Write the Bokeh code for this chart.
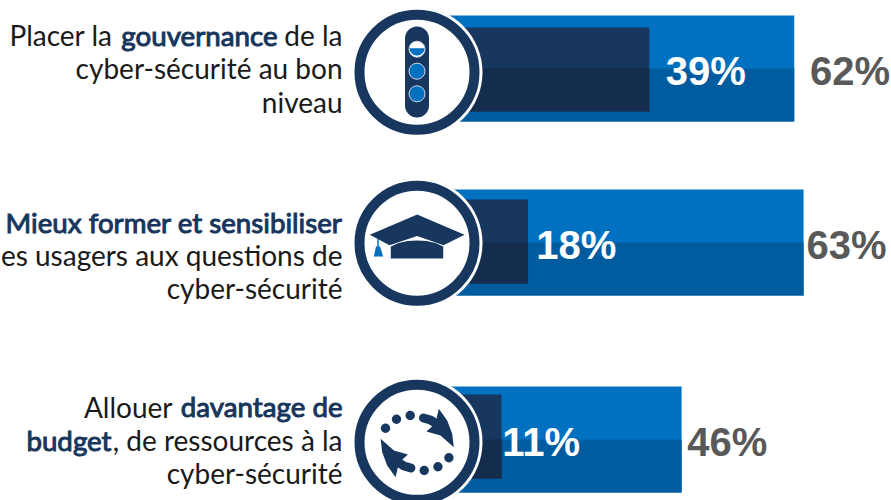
import numpy as np
from bokeh.embed import file_html
from bokeh.resources import INLINE
from bokeh.models import Range1d
from bokeh.plotting import figure
from bokeh.core.properties import value

# ---- data
outer_labels = ["62%", "63%", "46%"]
inner_labels = ["39%", "18%", "11%"]
outer_values = [61.7, 63.0, 46.0]      # bar length on the percent axis
inner_values = [41.5, 24.6, 20.9]      # bar length as drawn in the picture

# ---- styles / layout
W, H = 891, 500
BLUE_T, BLUE_B = "#0070C0", "#005C9F"
NAVY_T, NAVY_B = "#17375E", "#142C4D"
ROW_TOP = [15, 189, 386]
ROW_BOT = [121, 295, 492]
ROW_MID = [68, 242, 439]
IN_TOP = [27, 199, 394]
IN_BOT = [111, 283, 478]
ICON_X = 416.5
ICON_Y = [71.7, 242.7, 441.8]
X0, SLOPE = 351.0, 7.176
BAR_START = [9.0, 9.0, 9.0]
LABEL_Y = [70, 244, 441]
IN_OFF = [2.3, 1.15, 0.1]
OUT_OFF = [2.2, 0.4, 0.8]

p = figure(width=W, height=H, output_backend="svg", toolbar_location=None,
           x_range=Range1d(0, W), y_range=Range1d(H, 0), min_border=0,
           outline_line_color=None, background_fill_color="white", border_fill_color="white")
p.styles = {"position": "absolute", "left": "0px", "top": "0px"}
p.axis.visible = False
p.grid.visible = False
p.extra_x_ranges = {"pct": Range1d((0 - X0) / SLOPE, (W - X0) / SLOPE)}

p.quad(left=BAR_START, right=outer_values, top=ROW_TOP, bottom=ROW_BOT, x_range_name="pct",
       fill_color=BLUE_T, line_color=None)
p.quad(left=BAR_START, right=outer_values, top=ROW_MID, bottom=ROW_BOT, x_range_name="pct",
       fill_color=BLUE_B, line_color=None)
p.quad(left=BAR_START, right=inner_values, top=IN_TOP, bottom=IN_BOT, x_range_name="pct",
       fill_color=NAVY_T, line_color=None)
p.quad(left=BAR_START, right=inner_values, top=ROW_MID, bottom=IN_BOT, x_range_name="pct",
       fill_color=NAVY_B, line_color=None)

# value labels
p.text(x=[v + o for v, o in zip(inner_values, IN_OFF)], y=LABEL_Y, text=inner_labels, x_range_name="pct",
       text_font=value("Liberation Sans"), text_font_style="bold", text_font_size="40px",
       text_color="white", text_align="left", text_baseline="alphabetic")
p.text(x=[v + o for v, o in zip(outer_values, OUT_OFF)], y=LABEL_Y, text=outer_labels, x_range_name="pct",
       text_font=value("Liberation Sans"), text_font_style="bold", text_font_size="40px",
       text_color="#595959", text_align="left", text_baseline="alphabetic")

# icon discs
p.circle(x=[ICON_X] * 3, y=ICON_Y, radius=65.5, fill_color="white", line_color=None)
p.circle(x=[ICON_X] * 3, y=ICON_Y, radius=57.5, fill_color="white", line_color=NAVY_T, line_width=10)

NAVY = NAVY_T
# icon 1: gauge
p.quad(left=[ICON_X - 12], right=[ICON_X + 12], top=[38], bottom=[105], fill_color=NAVY, line_color=None)
p.circle(x=[ICON_X, ICON_X], y=[38, 105], radius=12, fill_color=NAVY, line_color=None)
p.circle(x=[ICON_X] * 3, y=[48.7, 70.7, 93.3], radius=8, fill_color=["white", BLUE_T, BLUE_T],
         line_color="#C9D6E6", line_width=1)
a = np.linspace(0.05, np.pi - 0.05, 30)
p.patch(ICON_X + 7.5 * np.cos(a), 47.5 + 7.5 * np.sin(a), fill_color=BLUE_T, line_color=None)

# icon 2: mortarboard
p.patch([416.7, 464, 443, 416.7, 389, 369.3], [214, 234.3, 244.7, 235.5, 244.7, 234.3], fill_color=NAVY, line_color=None)
p.patch([390.3, 398, 407, 416.7, 426, 435, 442.7, 442.7, 390.3],
        [246, 242.5, 240.5, 240, 240.5, 242.5, 246, 258, 258], fill_color=NAVY, line_color=None)
p.line([377.5, 377.5], [238, 248], line_color=BLUE_T, line_width=1.5)
p.patch([375.5, 379.5, 382.7, 373.3], [246, 246, 256, 256], fill_color=BLUE_T, line_color=None)

# icon 3: cycle arrows
cx, cy = 416.7, 442.5
dx = np.array([385, 396, 409.7])
dy = np.array([427.7, 418.7, 415])
p.circle(x=np.r_[dx, 2 * cx - dx], y=np.r_[dy, 2 * cy - dy], radius=4.7, fill_color=NAVY, line_color=None)
ax = np.array([438.3, 446.7, 451.7, 453.3, 440, 426, 435])
ay = np.array([408.3, 420, 433.3, 446.7, 435, 431, 422.7])
p.patch(ax, ay, fill_color=NAVY, line_color=None)
p.patch(2 * cx - ax, 2 * cy - ay, fill_color=NAVY, line_color=None)
sx = np.array([423, 430, 437])
sy = np.array([417.5, 419.5, 424])
p.line(sx, sy, line_color=NAVY, line_width=9, line_cap="round")
p.line(2 * cx - sx, 2 * cy - sy, line_color=NAVY, line_width=9, line_cap="round")

# left texts
INK, DARK = "#1A1A1A", "#17365D"
RIGHT = 342
def t(x, y, s, bold=False):
    p.text(x=[x], y=[y], text=[s], text_font=value("Lato"), text_font_size="27.7px" if bold else "28px",
           text_font_style="normal", text_color=DARK if bold else INK,
           text_outline_color=DARK if bold else None,
           text_align="right", text_baseline="alphabetic")

t(RIGHT, 34.5, "de la"); t(277, 34.5, "gouvernance", True); t(112, 34.5, "Placer la")
t(RIGHT, 67.5, "cyber-sécurité au bon")
t(RIGHT, 101.5, "niveau")
t(RIGHT, 221.5, "Mieux former et sensibiliser", True)
t(RIGHT, 254.5, "es usagers aux questions de")
t(RIGHT, 287.5, "cyber-sécurité")
t(RIGHT, 406, "davantage de", True); t(172, 406, "Allouer")
t(RIGHT, 439.5, ", de ressources à la"); t(111, 439.5, "budget", True)
t(RIGHT, 472.5, "cyber-sécurité")

open("out.html", "w").write(file_html(p, INLINE))
